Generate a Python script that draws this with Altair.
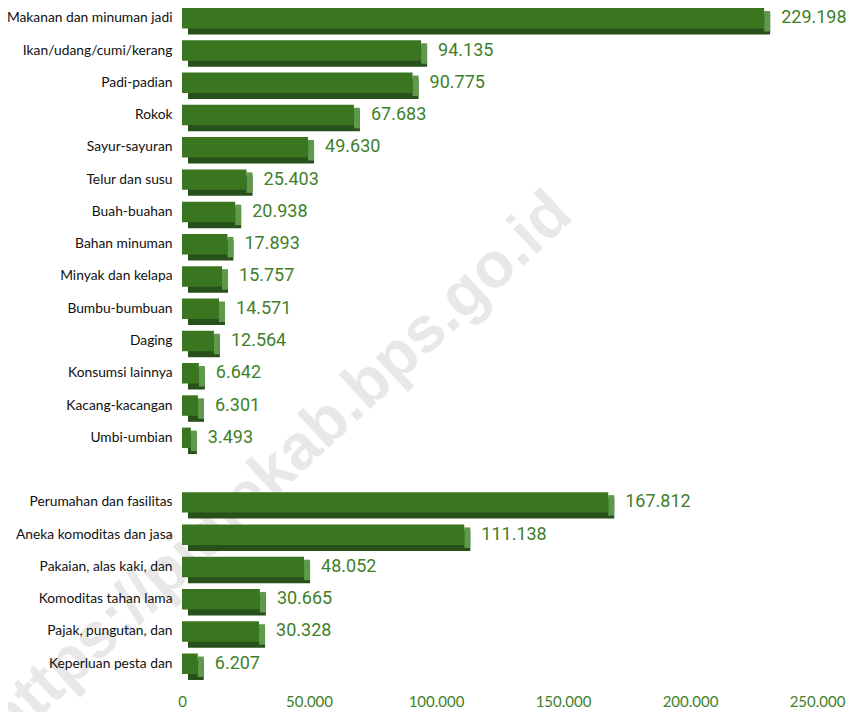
import altair as alt
import pandas as pd

food_cats = ["Makanan dan minuman jadi", "Ikan/udang/cumi/kerang", "Padi-padian", "Rokok",
             "Sayur-sayuran", "Telur dan susu", "Buah-buahan", "Bahan minuman",
             "Minyak dan kelapa", "Bumbu-bumbuan", "Daging", "Konsumsi lainnya",
             "Kacang-kacangan", "Umbi-umbian"]
food_vals = [229198, 94135, 90775, 67683, 49630, 25403, 20938, 17893, 15757, 14571,
             12564, 6642, 6301, 3493]
nonfood_cats = ["Perumahan dan fasilitas", "Aneka komoditas dan jasa", "Pakaian, alas kaki, dan",
                "Komoditas tahan lama", "Pajak, pungutan, dan", "Keperluan pesta dan"]
nonfood_vals = [167812, 111138, 48052, 30665, 30328, 6207]
x_ticks = [0, 50000, 100000, 150000, 200000, 250000]
watermark = "https://pidiekab.bps.go.id"

cats = food_cats + nonfood_cats
vals = food_vals + nonfood_vals
domain = food_cats + [" "] + nonfood_cats

df = pd.DataFrame({"cat": cats, "val": vals})
df["label"] = [f"{v:,}".replace(",", ".") for v in vals]

FRONT = "#3a7520"
DARK = "#27501a"
SIDE = "#5f9a4c"
GREEN_TXT = "#3f7f2a"

y = alt.Y("cat:N", sort=domain,
          scale=alt.Scale(domain=domain, paddingInner=0.365, paddingOuter=0),
          axis=alt.Axis(title=None, ticks=False, domain=False, labelFont="Lato",
                        labelFontSize=13.8, labelColor="#111111", labelPadding=10,
                        labelLimit=0, zindex=2))
x = alt.X("val:Q", scale=alt.Scale(domain=[0, 250000], nice=False),
          axis=alt.Axis(title=None, values=x_ticks, grid=False, ticks=False, domain=False,
                        labelFont="Lato", labelFontSize=15, labelColor=GREEN_TXT,
                        labelPadding=20, labelFlush=False, zindex=2,
                        labelExpr="replace(format(datum.value, ','), ',', '.')"))

base = alt.Chart(df)

wm = alt.Chart(pd.DataFrame({"t": [watermark]})).mark_text(
    font="Liberation Sans", fontWeight="bold", fontSize=64, color="#e8e8e8",
    angle=317, align="right", baseline="middle"
).encode(text="t:N", x=alt.value(380), y=alt.value(196))

dark = base.mark_bar(color=DARK, xOffset=6, x2Offset=3, yOffset=6).encode(x=x, y=y)
side = base.mark_bar(color=SIDE, x2Offset=6, yOffset=3).encode(x=x, x2="val:Q", y=y)
front = base.mark_bar(color=FRONT).encode(x=x, y=y)
text = base.mark_text(align="left", baseline="middle", dx=17, font="Roboto",
                      fontSize=18, color=GREEN_TXT).encode(x=x, y=y, text="label:N")

chart = alt.layer(wm, dark, side, front, text).properties(
    width=635, height=666,
    autosize=alt.AutoSizeParams(type="none"),
    padding={"left": 174, "top": 0, "right": 32, "bottom": 38},
).configure_view(stroke=None)

chart.save("out.html", embed_options={"renderer": "svg", "actions": False})
